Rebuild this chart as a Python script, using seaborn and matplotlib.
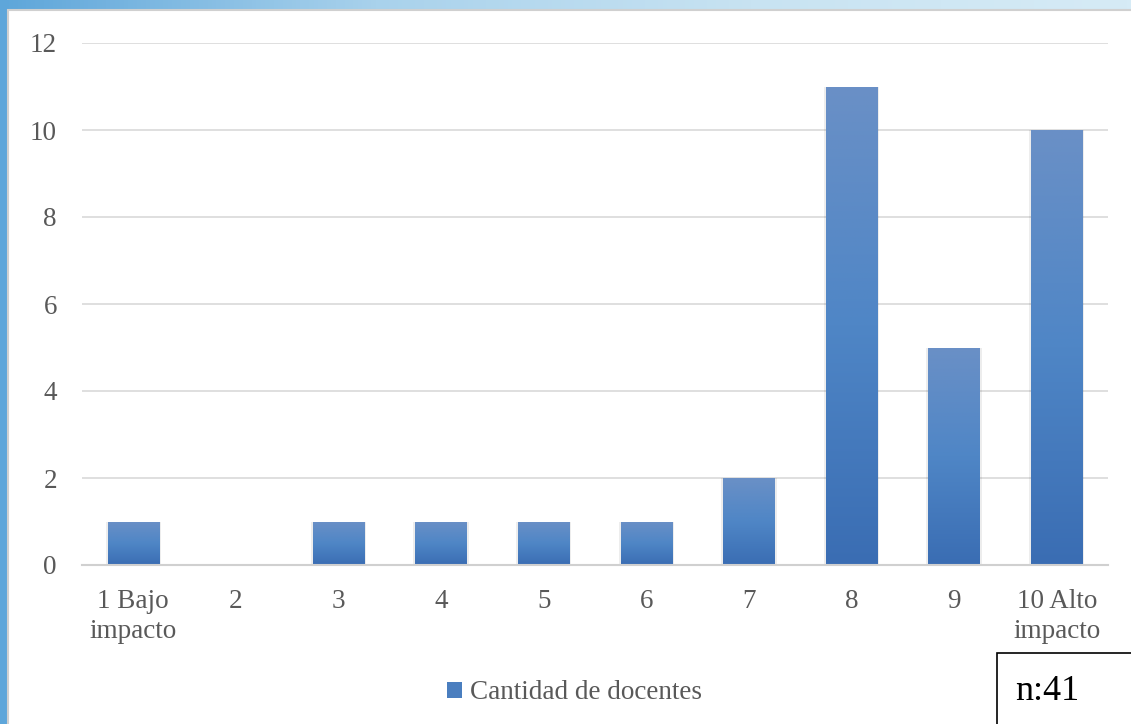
import numpy as np
import pandas as pd
import seaborn as sns
from matplotlib import pyplot as plt
from matplotlib.patches import Rectangle

categorias = ["1 Bajo\nimpacto", "2", "3", "4", "5", "6", "7", "8", "9", "10 Alto\nimpacto"]
docentes = [1, 0, 1, 1, 1, 1, 2, 11, 5, 10]
yticks = [0, 2, 4, 6, 8, 10, 12]
serie = "Cantidad de docentes"
nota = "n:41"

sns.set_theme(style="white")
plt.rcParams["font.family"] = ["Liberation Serif", "DejaVu Serif"]

W, H = 1131, 724
fig = plt.figure(figsize=(W / 100, H / 100), dpi=100)

# fondo azul tipo diapositiva
bg = fig.add_axes([0, 0, 1, 1], zorder=-10)
grad = np.linspace(0, 1, 256)[None, :]
cmap_bg = sns.blend_palette(["#5ea6da", "#a9d2ec", "#c8e3f2", "#d6ebf6"], as_cmap=True)
bg.imshow(grad, aspect="auto", cmap=cmap_bg, extent=[0, 1, 0, 1])
bg.add_patch(Rectangle((8 / W, -0.1), 1.2, 1.1 - 10 / H, transform=bg.transAxes,
                       facecolor="white", edgecolor="#d0d0d0", lw=1.5))
bg.set_xlim(0, 1)
bg.set_ylim(0, 1)
bg.axis("off")

ax = fig.add_axes([82 / W, 1 - 565 / H, (1108 - 82) / W, (565 - 43) / H])
ax.set_facecolor("none")

df = pd.DataFrame({"cat": categorias, "valor": docentes})
sns.barplot(data=df, x="cat", y="valor", color="#4a7ebf", width=0.5, ax=ax, zorder=3,
            linewidth=0)

# degradado en las barras
cmap_bar = sns.blend_palette(["#3a6db3", "#4f86c6", "#6a90c6"], as_cmap=True)
vgrad = np.linspace(0, 1, 256)[:, None]
for p in ax.patches:
    x0, y0 = p.get_x(), p.get_y()
    w, h = p.get_width(), p.get_height()
    if h <= 0:
        continue
    # sombra
    ax.add_patch(Rectangle((x0 - 0.02, y0), w + 0.04, h, facecolor="#000000",
                           alpha=0.07, lw=0, zorder=2))
    im = ax.imshow(vgrad, cmap=cmap_bar, aspect="auto", origin="lower",
                   extent=[x0, x0 + w, y0, y0 + h], zorder=4)
    im.set_clip_path(p)

ax.set_xlim(-0.5, len(categorias) - 0.5)
ax.set_ylim(0, 12)
ax.set_yticks(yticks)
ax.yaxis.grid(True, color="#d9d9d9", lw=1.2, zorder=0)
ax.xaxis.grid(False)
for s in ["top", "right", "left"]:
    ax.spines[s].set_visible(False)
ax.spines["bottom"].set_color("#d0d0d0")
ax.spines["bottom"].set_linewidth(1.5)
ax.spines["bottom"].set_zorder(5)
ax.set_xlabel("")
ax.set_ylabel("")
ax.tick_params(axis="both", length=0, labelsize=19.5, labelcolor="#595959")
ax.tick_params(axis="y", pad=18)
ax.tick_params(axis="x", pad=17)
for lab in ax.get_xticklabels():
    lab.set_linespacing(1.3)

handle = Rectangle((0, 0), 1, 1, facecolor="#4a7ebf", edgecolor="none")
fig.legend([handle], [serie], loc="center", bbox_to_anchor=(0.508, 0.043), frameon=False,
           fontsize=19.5, handlelength=0.55, handleheight=0.55, handletextpad=0.3,
           labelcolor="#595959")

# caja n
fig.patches.append(Rectangle((997 / W, -0.05), 0.2, 0.05 + (724 - 653) / H,
                             transform=fig.transFigure, facecolor="white",
                             edgecolor="black", lw=1.2, zorder=10))
fig.text(1015 / W, 1 - 691 / H, nota, fontsize=26, color="black", va="center", ha="left", zorder=11)

fig.savefig("out.png", dpi=100)
